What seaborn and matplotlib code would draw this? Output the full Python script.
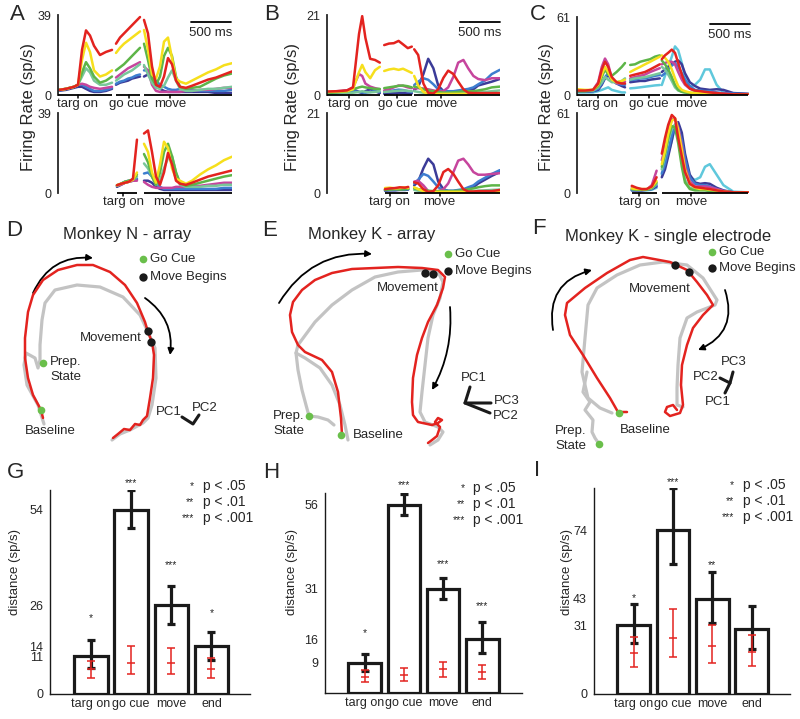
import matplotlib
matplotlib.use("Agg")
import matplotlib.pyplot as plt
from matplotlib.patches import FancyArrowPatch
from matplotlib.transforms import blended_transform_factory
import seaborn as sns

# ---------------- top row: firing rates (ms, sp/s) ----------------
# condition order: red, yellow, green, teal, magenta, blue, navy, cyan
COND_COLORS = ['#e3231f', '#f6df1c', '#5db548', '#79c79a', '#c6459d', '#3d7dcf', '#3b3b98', '#5fc8dc']

A_TARG_T = [0, 100, 200, 250, 300, 350, 400, 450, 525, 600, 675]
A_TARG = [
    [2.4, 3, 4, 5, 22, 31.5, 29, 24, 19.5, 21, 22],
    [2.4, 3, 4, 5, 17, 25.5, 21, 12, 9, 10, 12],
    [2.4, 3, 4, 5, 11, 16, 13, 9, 6, 7, 9],
    [2.4, 3, 4, 5, 9, 13, 11, 7, 5, 5, 6],
    [2.4, 3, 4, 5, 5.5, 5, 4, 3.5, 3, 3.5, 4],
    [2, 3, 4, 5, 5, 4, 3, 2, 2, 2.5, 3.5],
    [2, 2.5, 3.5, 4, 4, 3, 2, 1.5, 1.5, 2, 3],
]
A_GO_T = [725, 775, 825, 875, 925, 975, 1025]
A_GO = [
    [25, 28, 30, 32, 34, 36, 38],
    [20.5, 23, 25, 26.5, 28, 29.5, 31],
    [12, 13.5, 15, 17, 19, 21, 23],
    [7, 8.5, 10, 11, 12, 13.5, 15],
    [8.5, 10, 11.5, 13, 14, 15, 16],
    [5.5, 6.5, 7, 8, 8.5, 9.5, 10],
    [5, 6, 6.5, 7, 8, 8.5, 9],
]
MOVE_T = [1075, 1125, 1175, 1225, 1275, 1325, 1375, 1425, 1475, 1525, 1600, 1675, 1775, 1875, 1975, 2075, 2175]
A_MOVE = [
    [36.6, 30, 14, 5, 4, 9, 18, 15, 7, 4, 3.5, 4.5, 6, 7.5, 8.5, 10, 11.5],
    [31.7, 22, 10, 8, 14, 26, 28, 18, 8, 6.5, 5.5, 7, 9, 11, 12.5, 14.5, 15.5],
    [25, 17, 8, 5, 9, 19, 23, 19, 9, 4, 3, 3.5, 4, 6, 8, 9.5, 10.5],
    [14.6, 10, 6, 3.5, 3, 4.5, 8.5, 12, 7, 3, 2, 2, 2.5, 3, 3, 3.5, 4],
    [13.8, 12, 5, 2, 1.5, 1.5, 1.5, 1.5, 1.5, 1.5, 2, 2, 2.5, 2.5, 3, 3.5, 3.5],
    [12, 12, 10, 7, 5, 4, 3, 2.5, 2.5, 3, 3, 2.5, 2, 2, 2, 2, 2.5],
    [9, 10, 8, 5, 3, 2, 1.5, 1.5, 1.5, 1.5, 1.5, 1.5, 1.5, 1.5, 1, 1, 1],
]
A2_TARG_T = [737, 787, 837, 887, 937, 987]
A2_TARG = [
    [3.8, 4.5, 5, 5.5, 7, 26],
    [3.8, 4.5, 5, 5.5, 6.5, 10],
    [3.8, 4.5, 5.5, 6, 6.5, 9],
    [3.5, 4.5, 5.5, 6, 6.5, 8],
    [3.5, 4, 5, 5.5, 6, 6],
    [3.5, 4.5, 5.5, 6, 6.5, 7],
    [3, 4, 5, 5.5, 6, 6.5],
]
A2_MOVE = [
    [29, 30.5, 20, 8, 4, 10, 19.5, 14, 6, 4.5, 4, 5, 6.5, 8, 9, 10, 11],
    [24, 20, 10, 5, 14, 25, 22, 12, 7, 6, 4.5, 6, 9, 11.5, 13.5, 16, 17.7],
    [19, 15, 8, 4, 10, 20, 24, 18, 10, 5, 3.5, 4, 5, 6, 7, 8, 8.7],
    [14.4, 12, 8, 4, 6, 12, 17, 18, 10, 4, 3, 3, 3, 3.5, 3.5, 4, 4],
    [5.4, 4, 3, 2.5, 2.5, 2.5, 2.5, 2.5, 3, 3, 3, 3.5, 3.5, 4, 4.5, 5, 5],
    [9.5, 10, 8, 5, 3, 2, 2, 2, 2, 2, 2, 2, 2, 2, 2, 2.5, 2.5],
    [6, 6, 5, 3, 2, 1.5, 1.5, 1.5, 1.5, 1.5, 1.5, 1.5, 1.5, 1.5, 1.5, 1.5, 1.5],
]

B_TARG_T = [0, 125, 250, 325, 400, 440, 480, 540, 600, 660]
B_TARG = [
    [0.9, 1.0, 1.2, 2.0, 16, 20.7, 15, 9.5, 9.2, 8.5],
    [0.8, 0.9, 1.0, 1.5, 6, 7.9, 6, 4.4, 6.5, 7.4],
    [0.5, 0.7, 1.0, 1.5, 2.0, 2.2, 2.0, 1.8, 1.6, 1.6],
    [0.3, 0.4, 0.5, 0.6, 0.8, 1.0, 0.8, 0.7, 0.8, 1.0],
    [0.8, 1.0, 1.2, 2.0, 5.5, 5, 3, 2.2, 1.8, 1.5],
    [0.5, 0.8, 1.2, 1.0, 0.8, 0.7, 0.6, 0.8, 1.0, 0.8],
    [0.3, 0.5, 1.0, 1.5, 0.8, 0.5, 1.0, 1.5, 1.0, 0.5],
]
B_GO_T = [715, 775, 835, 895, 950, 1010, 1060]
B_GO = [
    [13.1, 13.5, 13.6, 14.2, 13.3, 12.3, 12.7],
    [6.3, 6.7, 6.9, 6.6, 6.9, 6.3, 5.8],
    [1.8, 2.0, 2.2, 2.4, 2.5, 2.3, 2.0],
    [0.8, 0.9, 1.0, 1.1, 1.2, 1.1, 1.0],
    [1.2, 1.5, 2.0, 2.5, 2.4, 2.0, 1.8],
    [0.8, 1.0, 1.2, 1.4, 1.3, 1.0, 0.8],
    [0.3, 0.4, 0.5, 0.6, 0.5, 0.4, 0.4],
]
B_MOVE_T = [1090, 1140, 1205, 1265, 1330, 1390, 1455, 1515, 1580, 1640, 1705, 1765, 1830, 1890, 1975, 2060, 2160]
B_MOVE = [
    [12, 10.5, 3, 0.6, 0.4, 1.5, 4.5, 6.4, 5.5, 3.5, 1.5, 0.6, 0.5, 0.5, 0.5, 0.5, 0.5],
    [5, 2.5, 0.8, 0.3, 0.3, 0.3, 0.3, 0.3, 0.3, 0.3, 0.3, 0.3, 0.3, 0.3, 0.3, 0.3, 0.3],
    [2.2, 2.0, 1.5, 1.2, 1.0, 0.8, 0.6, 0.6, 0.7, 0.8, 1.0, 1.0, 1.0, 1.2, 1.5, 2.0, 2.2],
    [1.0, 0.8, 0.6, 0.5, 0.5, 0.5, 0.5, 0.5, 0.5, 0.5, 0.5, 0.5, 0.6, 0.7, 0.8, 1.0, 1.2],
    [1.7, 1.8, 1.7, 1.5, 1.2, 0.9, 1.0, 2.0, 4.8, 8.5, 9.2, 7.0, 5.0, 4.2, 3.9, 4.4, 4.4],
    [2.6, 3.5, 4.4, 4, 2.8, 1.5, 1.0, 1.0, 1.0, 1.2, 1.4, 1.6, 2.0, 2.8, 3.8, 5.5, 6.6],
    [1.3, 2.2, 5.5, 9.5, 7, 2.5, 1.0, 0.8, 0.8, 0.8, 1.0, 1.2, 1.5, 2.5, 3.0, 3.5, 4.2],
]
B2_TARG_T = [725, 785, 850, 910, 975, 1015]
B2_TARG = [
    [1.0, 1.2, 1.3, 1.5, 1.4, 1.6],
    [1.3, 1.4, 1.2, 1.3, 1.5, 1.3],
    [0.8, 0.9, 1.0, 0.9, 1.0, 1.1],
    [0.9, 1.0, 1.1, 1.2, 1.1, 1.2],
    [0.9, 1.0, 1.1, 1.0, 1.2, 1.4],
    [0.7, 0.8, 0.8, 0.9, 0.9, 1.0],
    [0.6, 0.7, 0.7, 0.8, 0.8, 0.9],
]
B2_MOVE = [
    [2.8, 2.5, 1.0, 0.3, 0.5, 2.0, 5.5, 6.3, 5.0, 3.0, 1.0, 0.4, 0.4, 0.5, 0.5, 0.5, 0.8],
    [1.5, 1.0, 0.5, 0.3, 0.3, 0.3, 0.3, 0.3, 0.3, 0.3, 0.3, 0.3, 0.3, 0.3, 0.3, 0.3, 0.3],
    [1.2, 1.0, 0.8, 0.6, 0.5, 0.5, 0.5, 0.5, 0.5, 0.6, 0.8, 1.0, 1.2, 1.5, 1.8, 2.0, 2.0],
    [0.8, 0.6, 0.5, 0.4, 0.4, 0.4, 0.4, 0.4, 0.4, 0.4, 0.4, 0.5, 0.5, 0.6, 0.7, 0.8, 0.9],
    [3.0, 3.2, 2.0, 0.5, 0.3, 0.5, 1.0, 2.5, 5.5, 8.5, 9.0, 7.5, 5.5, 4.8, 4.8, 5.0, 5.2],
    [2.5, 3.5, 5, 4.5, 3, 1.5, 0.8, 0.6, 0.6, 0.8, 1.0, 1.5, 2.0, 3.0, 4.0, 5.0, 6.0],
    [2.0, 3, 6.5, 9.0, 7.5, 3, 1, 0.5, 0.5, 0.6, 0.8, 1.0, 1.5, 2.5, 3.5, 4.5, 5.5],
]

C_TARG_T = [0, 100, 200, 265, 310, 350, 390, 435, 495, 560, 600]
C_TARG = [
    [3.5, 3.5, 4, 9, 20, 26, 22, 14, 10, 9, 9],
    [4.5, 4.0, 4, 8, 16, 22, 18, 12, 10, 11, 12],
    [3, 3, 4, 7, 14, 20, 16, 15, 18, 22, 25],
    [3, 3, 3.5, 6, 10, 14, 12, 10, 10, 11, 13],
    [3.9, 3.5, 4, 10, 22, 28.5, 24, 13, 9, 9.5, 10.4],
    [3, 3, 3, 5, 9, 14, 17, 12, 9, 8, 8],
    [2.5, 2.5, 3, 4, 8, 13, 15.5, 12, 9, 7, 6],
    [2, 2, 2, 3, 4, 5, 6, 4, 3, 2, 2],
]
C_GO_T = [665, 725, 790, 850, 915, 975, 1035]
C_GO = [
    [15, 16, 17, 18, 20, 22, 24],
    [18, 20, 22, 24, 26, 28, 30],
    [23.5, 24, 26, 27, 28, 30, 31],
    [12, 13, 13.5, 14, 15, 16, 17],
    [13, 14, 15, 16, 18, 19.5, 21],
    [11.7, 12, 13, 13, 14, 15, 15.6],
    [10, 10.5, 11, 11, 12, 12.5, 13],
    [5.2, 5.5, 6, 6.5, 7, 7.5, 7.8],
]
C_MOVE_T = [1060, 1100, 1140, 1185, 1225, 1265, 1310, 1350, 1410, 1475, 1540, 1600, 1660, 1745, 1830, 1955, 2140]
C_MOVE = [
    [28, 31, 33, 35.5, 33, 25, 16, 9, 5, 3.5, 3, 2.5, 2, 1.5, 1, 0.5, 0.5],
    [31, 29, 26, 20, 13, 7, 4, 3, 2, 1.5, 1.5, 1, 1, 1, 0.5, 0.5, 0.5],
    [27, 24, 20, 14, 8, 4, 2.5, 2, 1.5, 1.5, 1, 1, 1, 1, 0.5, 0.5, 0.5],
    [22, 20, 16, 11, 6, 3.5, 2.5, 2, 1.5, 1.5, 1, 1, 1, 1, 0.5, 0.5, 0.5],
    [24, 25, 26, 26, 24, 18, 12, 8, 5, 3, 2.5, 2, 2, 1.5, 1, 0.5, 0.5],
    [15, 17, 20, 23, 25, 22, 17, 12, 7, 4, 3.5, 3, 3, 2, 1.5, 1, 0.5],
    [18, 20, 22, 24, 26, 27, 24, 17, 10, 7, 5, 4.5, 4, 4.5, 4, 1.5, 1],
    [7.8, 15, 22, 30, 38, 35, 25, 14, 6.5, 8, 12, 20, 20, 8, 2, 0.8, 0.5],
]
C2_TARG_T = [685, 745, 810, 870, 935, 995]
C2_TARG = [
    [5.5, 4, 3, 3, 5, 12],
    [3.5, 3, 3, 3, 4.5, 9],
    [3, 2.5, 2.5, 2.5, 4, 8],
    [3, 2.5, 2.5, 2.5, 3.5, 7],
    [4.6, 3, 2.5, 2.5, 6, 17],
    [2.5, 2.5, 2.5, 2.5, 3.5, 6],
    [2, 2, 2, 2.5, 3, 5],
    [2, 2, 2, 2, 2.5, 4],
]
C2_MOVE = [
    [30, 42, 52, 59.5, 57, 42, 28, 16, 7, 4.5, 4, 3.5, 3, 2, 1.2, 0.5, 0.5],
    [22, 32, 45, 55, 57, 48, 33, 18, 7, 4, 3, 3, 2.5, 2, 1, 0.5, 0.5],
    [20, 30, 42, 51, 50, 38, 20, 8, 3, 2, 2, 2, 1.5, 1, 0.5, 0.5, 0.5],
    [18, 28, 40, 49, 52, 42, 25, 10, 4, 3, 3, 2.5, 2, 1.5, 1, 0.5, 0.5],
    [25, 35, 47, 56, 57, 50, 36, 20, 9, 5, 5, 5, 4.5, 3, 1.5, 0.5, 0.5],
    [15, 22, 32, 44, 51, 50, 40, 26, 12, 7, 6, 6, 5, 3, 1.5, 0.5, 0.5],
    [12, 18, 28, 40, 52, 54, 46, 30, 14, 8, 7, 7.5, 7, 4, 2, 0.5, 0.5],
    [14, 20, 30, 40, 50, 45, 32, 20, 12, 10, 12, 20, 22, 14, 6, 1, 0.5],
]

# ---------------- middle row: neural trajectories (projection units) ----------------
D_RED_X = [43, 41, 33, 28, 25, 25, 28, 33, 43, 58, 77, 93, 110, 125, 137, 145, 148, 152, 154, 153, 150, 147, 143, 140, 135, 130, 124, 118, 113]
D_RED_Y = [418, 410, 395, 378, 358, 338, 312, 295, 280, 270, 265, 265, 272, 285, 303, 322, 332, 342, 355, 378, 398, 416, 420, 425, 424, 430, 429, 434, 438]
D_GRAY_X = [44, 38, 27, 24, 26, 35, 38, 40, 40, 42, 45, 55, 77, 100, 123, 140, 148, 155, 156, 152, 148, 143, 130, 120, 112]
D_GRAY_Y = [424, 405, 385, 365, 353, 358, 368, 360, 345, 320, 303, 290, 285, 287, 297, 315, 332, 348, 378, 405, 418, 423, 430, 434, 440]
D_GO = ([43, 41], [363, 410])
D_MOVE = ([148, 151], [331, 342])

E_RED_X = [342, 341, 338, 332, 322, 305, 298, 292, 290, 293, 302, 315, 332, 352, 375, 398, 422, 438, 445, 443, 437, 428, 422, 417, 413, 412, 413, 418, 432, 438, 442, 438, 435, 440, 437, 432, 428]
E_RED_Y = [435, 418, 392, 372, 360, 352, 345, 332, 315, 302, 290, 280, 273, 269, 268, 267, 268, 270, 277, 288, 305, 322, 338, 355, 378, 402, 415, 422, 425, 423, 420, 418, 422, 427, 436, 440, 443]
E_GRAY_X = [348, 345, 340, 332, 320, 305, 296, 298, 315, 332, 352, 375, 398, 422, 438, 443, 440, 433, 428, 425, 422, 420, 425, 438, 443, 438, 430]
E_GRAY_Y = [440, 425, 405, 385, 368, 358, 353, 345, 322, 305, 290, 277, 272, 270, 272, 282, 298, 315, 338, 365, 392, 412, 422, 427, 432, 440, 445]
E_GRAY2_X = [296, 298, 302, 306, 309, 318, 328, 334]
E_GRAY2_Y = [353, 370, 390, 405, 416, 417, 420, 425]
E_GO = ([309, 341], [416, 435])
E_MOVE = ([425, 433], [273, 274])

F_RED_X = [627, 618, 610, 597, 583, 570, 565, 567, 585, 607, 630, 643, 670, 687, 697, 707, 713, 703, 693, 687, 682, 681, 683, 680, 670, 665, 667, 673, 677]
F_RED_Y = [412, 412, 398, 378, 355, 335, 315, 303, 288, 273, 260, 257, 262, 270, 282, 295, 305, 315, 328, 345, 365, 385, 405, 413, 416, 412, 407, 405, 410]
F_GRAY_X = [612, 600, 588, 582, 585, 588, 597, 617, 640, 663, 687, 703, 717, 715, 697, 687, 680, 678, 677, 677, 683]
F_GRAY_Y = [413, 408, 398, 372, 338, 305, 288, 275, 265, 262, 265, 278, 300, 305, 312, 318, 338, 365, 388, 405, 407]
F_GRAY2_X = [587, 583, 590, 585, 593, 592, 595, 599]
F_GRAY2_Y = [372, 392, 402, 410, 420, 432, 438, 444]
F_GO = ([619, 599], [413, 444])
F_MOVE = ([675, 689], [265, 272])

# ---------------- bottom row: distances ----------------
BAR_CATS = ['targ on', 'go cue', 'move', 'end']

G_MEAN = [11, 54, 26, 14]
G_LO = [7.5, 48.6, 20.5, 10]
G_HI = [15.9, 59.9, 31.7, 18.3]
G_NULL = [7.2, 9.2, 9.2, 7.2]
G_NULL_LO = [4.6, 5.9, 5.8, 4.6]
G_NULL_HI = [9.8, 14.2, 13.6, 10.5]
G_SIG = ['*', '***', '***', '*']

H_MEAN = [9, 56, 31, 16]
H_LO = [6.6, 53.0, 27.9, 11.9]
H_HI = [11.6, 59.2, 34.2, 21.0]
H_NULL = [4.8, 5.5, 7.1, 6.1]
H_NULL_LO = [3.2, 3.7, 4.7, 4.2]
H_NULL_HI = [6.9, 7.4, 9.1, 8.4]
H_SIG = ['*', '***', '***', '***']

I_MEAN = [31, 74, 43, 29.5]
I_LO = [23.3, 58.8, 32.3, 20.2]
I_HI = [40.6, 93.2, 55.4, 40]
I_NULL = [18.4, 25.5, 21.9, 19.2]
I_NULL_LO = [12.4, 16.9, 13.9, 12.7]
I_NULL_HI = [26, 38.5, 31.3, 26.7]
I_SIG = ['*', '***', '**', '']

SIG_KEY = [('*', 'p < .05'), ('**', 'p < .01'), ('***', 'p < .001')]

W, H = 800, 719
MS_PER_PX = 12.5
RED = '#e3231f'
GREEN = '#6abf4b'

sns.set_style('white')
plt.rcParams['font.family'] = ['Liberation Sans', 'DejaVu Sans']
plt.rcParams['font.size'] = 9.5

fig = plt.figure(figsize=(W / 100, H / 100), dpi=100)


def px_axes(x0, y0, x1, y1):
    return fig.add_axes([x0 / W, 1 - y1 / H, (x1 - x0) / W, (y1 - y0) / H])


def fig_text(x, y, s, **kw):
    fig.text(x / W, 1 - y / H, s, **kw)


def rate_panel(x0, y0, x1, y1, ymax, segs, ev_pos, ev_lbl, scale_bar=False):
    ax = px_axes(x0, y0, x1, y1)
    for t, rows in segs:
        for vals, col in reversed(list(zip(rows, COND_COLORS))):
            sns.lineplot(x=t, y=vals, color=col, linewidth=1.8, ax=ax,
                         legend=False, estimator=None, sort=False)
        ax.plot([t[0], t[-1]], [0, 0], color='black', lw=1.3,
                solid_capstyle='butt', clip_on=False, zorder=6)
    ax.set_xlim(0, (x1 - x0) * MS_PER_PX)
    ax.set_ylim(0, ymax)
    tr = blended_transform_factory(ax.transData, ax.transAxes)
    for x, lbl in zip(ev_pos, ev_lbl):
        ax.plot([x, x], [0, -0.035], transform=tr, color='black', lw=1.1, clip_on=False)
        ax.text(x, -0.035, lbl, transform=tr, ha='center', va='top', fontsize=9.5)
    if scale_bar:
        ax.plot([1662, 2162], [0.91, 0.91], transform=tr, color='black', lw=1.3, clip_on=False)
        ax.text(1912, 0.775, '500 ms', transform=tr, ha='center', va='center', fontsize=9.5)
    for s in ['top', 'right', 'bottom']:
        ax.spines[s].set_visible(False)
    ax.spines['left'].set_linewidth(1.3)
    ax.set_xticks([])
    ax.set_yticks([0, ymax])
    ax.set_yticklabels(['0', str(ymax)], fontsize=9)
    ax.tick_params(axis='y', length=3, width=1, pad=1.5)
    ax.set_xlabel('')
    ax.set_ylabel('')
    return ax


def arrow(ax, p0, p1, rad):
    ax.add_patch(FancyArrowPatch(p0, p1, connectionstyle=f'arc3,rad={rad}',
                                 arrowstyle='-|>', mutation_scale=9, lw=1.3,
                                 color='black', shrinkA=0, shrinkB=0))


def traj_panel(x0, x1, red, grays, go, move):
    ax = px_axes(x0, 205, x1, 455)
    ax.set_xlim(x0, x1)
    ax.set_ylim(455, 205)
    ax.axis('off')
    for gx, gy in grays:
        ax.plot(gx, gy, color='#c3c3c3', lw=2.3, solid_capstyle='round', solid_joinstyle='round')
    ax.plot(red[0], red[1], color=RED, lw=1.8, solid_joinstyle='round')
    ax.plot(go[0], go[1], 'o', color=GREEN, ms=5.5, mec='none', zorder=5)
    ax.plot(move[0], move[1], 'o', color='#1a1a1a', ms=6, mec='none', zorder=5)
    return ax


def bar_panel(x0, y0, x1, y1, xlim, ymax, mean, lo, hi, null, nlo, nhi, sig, sig_y, yticks):
    ax = px_axes(x0, y0, x1, y1)
    sns.barplot(x=BAR_CATS, y=mean, color='white', edgecolor='#1a1a1a', linewidth=2.3,
                width=0.83, errorbar=None, ax=ax)
    pos = list(range(len(mean)))
    ax.errorbar(pos, mean, yerr=[[m - l for m, l in zip(mean, lo)], [h - m for m, h in zip(mean, hi)]],
                fmt='none', ecolor='#1a1a1a', elinewidth=2.3, capsize=3.2, capthick=2.3, zorder=4)
    ax.errorbar(pos, null, yerr=[[m - l for m, l in zip(null, nlo)], [h - m for m, h in zip(null, nhi)]],
                fmt='_', color=RED, ecolor=RED, ms=6.4, mew=1.1, elinewidth=1.1,
                capsize=3.2, capthick=1.1, zorder=5)
    for i, (s, y) in enumerate(zip(sig, sig_y)):
        if s:
            ax.text(i, y, s, ha='center', va='center', fontsize=7.5)
    ax.set_xlim(*xlim)
    ax.set_ylim(0, ymax)
    ax.set_yticks(yticks)
    ax.set_yticklabels([str(v) for v in yticks], fontsize=9)
    ax.tick_params(axis='y', length=3, width=1, pad=2)
    ax.tick_params(axis='x', length=0, pad=3, labelsize=9)
    for s in ['top', 'right']:
        ax.spines[s].set_visible(False)
    for s in ['left', 'bottom']:
        ax.spines[s].set_linewidth(1.0)
        ax.spines[s].set_color('#1a1a1a')
    ax.set_xlabel('')
    ax.set_ylabel('')
    return ax


# ---- top row ----
rate_panel(58, 15, 232, 95, 39,
           [(A_TARG_T, A_TARG), (A_GO_T, A_GO), (MOVE_T, A_MOVE)],
           [250, 887, 1406], ['targ on', 'go cue', 'move'], scale_bar=True)
rate_panel(58, 113, 232, 193, 39,
           [(A2_TARG_T, A2_TARG), (MOVE_T, A2_MOVE)],
           [817, 1396], ['targ on', 'move'])
rate_panel(327, 15, 500, 95, 21,
           [(B_TARG_T, B_TARG), (B_GO_T, B_GO), (B_MOVE_T, B_MOVE)],
           [275, 879, 1429], ['targ on', 'go cue', 'move'], scale_bar=True)
rate_panel(327, 113, 500, 193, 21,
           [(B2_TARG_T, B2_TARG), (B_MOVE_T, B2_MOVE)],
           [787, 1408], ['targ on', 'move'])
rate_panel(577, 17, 749, 95, 61,
           [(C_TARG_T, C_TARG), (C_GO_T, C_GO), (C_MOVE_T, C_MOVE)],
           [260, 896, 1429], ['targ on', 'go cue', 'move'], scale_bar=True)
rate_panel(577, 113, 749, 193, 61,
           [(C2_TARG_T, C2_TARG), (C_MOVE_T, C2_MOVE)],
           [777, 1425], ['targ on', 'move'])

for x in [28, 293, 546]:
    fig_text(x, 107, 'Firing Rate (sp/s)', rotation=90, ha='center', va='center', fontsize=12)

# ---- middle row ----
axD = traj_panel(0, 265, (D_RED_X, D_RED_Y), [(D_GRAY_X, D_GRAY_Y)], D_GO, D_MOVE)
axE = traj_panel(265, 530, (E_RED_X, E_RED_Y), [(E_GRAY_X, E_GRAY_Y), (E_GRAY2_X, E_GRAY2_Y)], E_GO, E_MOVE)
axF = traj_panel(530, 800, (F_RED_X, F_RED_Y), [(F_GRAY_X, F_GRAY_Y), (F_GRAY2_X, F_GRAY2_Y)], F_GO, F_MOVE)

arrow(axD, (33, 293), (93, 258), -0.35)
arrow(axD, (145, 298), (170, 355), -0.3)
arrow(axE, (279, 303), (372, 254), -0.3)
arrow(axE, (450, 307), (432, 390), -0.15)
arrow(axF, (553, 330), (592, 270), -0.45)
arrow(axF, (725, 290), (698, 350), -0.45)

for ax, title, tx, ty in [(axD, 'Monkey N - array', 127, 234),
                          (axE, 'Monkey K - array', 372, 234),
                          (axF, 'Monkey K - single electrode', 668, 236)]:
    ax.text(tx, ty, title, ha='center', va='center', fontsize=12)

for ax, lx, gy, by in [(axD, 143, 259, 277), (axE, 448, 254, 271), (axF, 712, 252, 268)]:
    ax.plot([lx], [gy], 'o', color=GREEN, ms=5.5, mec='none')
    ax.plot([lx], [by], 'o', color='#1a1a1a', ms=6, mec='none')
    ax.text(lx + 7, gy, 'Go Cue', ha='left', va='center', fontsize=9.5)
    ax.text(lx + 7, by, 'Move Begins', ha='left', va='center', fontsize=9.5)

axD.text(142, 338, 'Movement', ha='right', va='center', fontsize=9.5)
axD.text(50, 362, 'Prep.', ha='left', va='center', fontsize=9.5)
axD.text(50, 377, 'State', ha='left', va='center', fontsize=9.5)
axD.text(50, 431, 'Baseline', ha='center', va='center', fontsize=9.5)
axE.text(408, 288, 'Movement', ha='center', va='center', fontsize=9.5)
axE.text(273, 416, 'Prep.', ha='left', va='center', fontsize=9.5)
axE.text(273, 431, 'State', ha='left', va='center', fontsize=9.5)
axE.text(353, 435, 'Baseline', ha='left', va='center', fontsize=9.5)
axF.text(660, 289, 'Movement', ha='center', va='center', fontsize=9.5)
axF.text(555, 431, 'Prep.', ha='left', va='center', fontsize=9.5)
axF.text(555, 446, 'State', ha='left', va='center', fontsize=9.5)
axF.text(620, 430, 'Baseline', ha='left', va='center', fontsize=9.5)

# PC axes glyphs
axD.plot([182, 193, 199], [417, 424, 415], color='#1a1a1a', lw=2.2)
axD.text(169, 412, 'PC1', ha='center', va='center', fontsize=9.5)
axD.text(205, 408, 'PC2', ha='center', va='center', fontsize=9.5)
axE.plot([470, 465, 491], [387, 403, 403], color='#1a1a1a', lw=2.2)
axE.plot([465, 490], [403, 413], color='#1a1a1a', lw=2.2)
axE.text(474, 378, 'PC1', ha='center', va='center', fontsize=9.5)
axE.text(494, 401, 'PC3', ha='left', va='center', fontsize=9.5)
axE.text(493, 416, 'PC2', ha='left', va='center', fontsize=9.5)
axF.plot([733, 730, 725], [372, 383, 393], color='#1a1a1a', lw=2.2)
axF.plot([720, 730], [378, 383], color='#1a1a1a', lw=2.2)
axF.text(734, 362, 'PC3', ha='center', va='center', fontsize=9.5)
axF.text(719, 377, 'PC2', ha='right', va='center', fontsize=9.5)
axF.text(718, 402, 'PC1', ha='center', va='center', fontsize=9.5)

# ---- bottom row ----
bar_panel(50, 490, 250, 694, (-1.02, 3.96), 59.8, G_MEAN, G_LO, G_HI, G_NULL, G_NULL_LO, G_NULL_HI,
          G_SIG, [22.2, 61.8, 37.9, 23.7], [0, 11, 14, 26, 54])
bar_panel(325, 493, 522, 693, (-1.01, 4.01), 59.5, H_MEAN, H_LO, H_HI, H_NULL, H_NULL_LO, H_NULL_HI,
          H_SIG, [17.8, 61.9, 38.5, 25.8], [9, 16, 31, 56])
bar_panel(594, 488, 790, 694, (-1.01, 3.98), 93.2, I_MEAN, I_LO, I_HI, I_NULL, I_NULL_LO, I_NULL_HI,
          I_SIG, [43.4, 95.8, 58.2, 0], [0, 31, 43, 74])

for x in [15, 292, 567]:
    fig_text(x, 572, 'distance (sp/s)', rotation=90, ha='center', va='center', fontsize=9.5)

for sx, px, y0 in [(194, 203, 486), (465, 473, 488), (734, 743, 485)]:
    for k, (stars, txt) in enumerate(SIG_KEY):
        fig_text(sx, y0 + 16 * k, stars, ha='right', va='center', fontsize=7.5)
        fig_text(px, y0 + 16 * k, txt, ha='left', va='center', fontsize=10)

# panel letters
for lbl, x, y in [('A', 17, 15), ('B', 272, 15), ('C', 538, 15),
                  ('D', 14, 231), ('E', 270, 231), ('F', 539, 229),
                  ('G', 15, 472), ('H', 271, 472), ('I', 537, 470)]:
    fig_text(x, y, lbl, ha='center', va='center', fontsize=16)

fig.savefig('out.png', dpi=100)
